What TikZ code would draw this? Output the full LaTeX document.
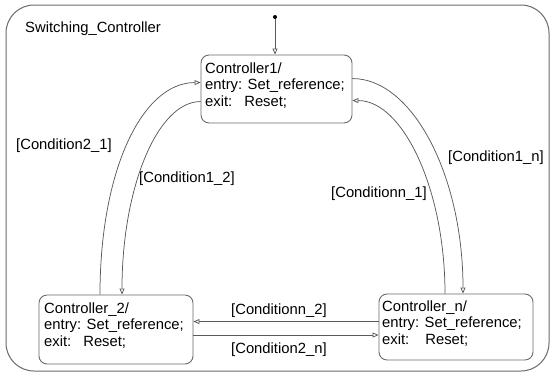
\documentclass[tikz,border=0pt]{standalone}
\usepackage{fontspec}
\setmainfont{Liberation Sans}
\usetikzlibrary{arrows.meta,calc}
\definecolor{linegray}{HTML}{5A5A5A}
\definecolor{boxgray}{HTML}{6A6A6A}
\definecolor{txt}{HTML}{000000}
\tikzset{
  statebox/.style={draw=boxgray,line width=0.9pt,rounded corners=8pt,minimum width=#1,inner sep=0pt},
  statetext/.style={anchor=north west,inner sep=0pt,align=left,text=txt,font=\fontsize{14.8}{16.4}\selectfont},
  lbl/.style={anchor=base west,inner sep=0pt,text=txt,font=\fontsize{14.8}{16.4}\selectfont},
  trans/.style={draw=linegray,line width=0.75pt,-{Triangle[open,length=6pt,width=5pt]}},
}
\begin{document}
\begin{tikzpicture}[x=1pt,y=-1pt]
\useasboundingbox (0,0) rectangle (550,372);
% outer superstate
\draw[draw=boxgray,line width=1pt,rounded corners=28pt] (6,5) rectangle (549,371);
\node[lbl] (title) at (25,32) {Switching\_Controller};
% states
\node[statebox=151pt,minimum height=68pt] (c1) at (276.5,89) {};
\node[statebox=154pt,minimum height=69pt] (c2) at (116,329.5) {};
\node[statebox=154pt,minimum height=66pt] (cn) at (456,327) {};
\node[statetext] (c1t) at (205,62.4) {Controller1/\\entry: Set\_reference;\\exit:\hspace{12pt}Reset;};
\node[statetext] (c2t) at (44,302.4) {Controller\_2/\\entry: Set\_reference;\\exit:\hspace{12pt}Reset;};
\node[statetext] (cnt) at (382,300.6) {Controller\_n/\\entry: Set\_reference;\\exit:\hspace{16pt}Reset;};
% default transition
\node[circle,fill=txt,inner sep=0pt,minimum size=4pt] (init) at (275,17) {};
\draw[trans] (init) -- (init |- c1.north);
% transitions
\coordinate (a21s) at ($(c2.north)+(-16,0)$);
\coordinate (a21e) at ($(c1.north west)+(0,28)$);
\draw[trans] (a21s) .. controls ($(a21s)+(0,-125)$) and ($(a21e)+(-58,0)$) .. (a21e);
\coordinate (a12s) at ($(c1.north west)+(0,47)$);
\coordinate (a12e) at ($(c2.north)+(6,0)$);
\draw[trans] (a12s) .. controls ($(a12s)+(-43,0)$) and ($(a12e)+(0,-107)$) .. (a12e);
\coordinate (a1ns) at ($(c1.north east)+(0,24)$);
\coordinate (a1ne) at ($(cn.north)+(7,0)$);
\draw[trans] (a1ns) .. controls ($(a1ns)+(60,0)$) and ($(a1ne)+(0,-118)$) .. (a1ne);
\coordinate (an1s) at ($(cn.north)+(-11,0)$);
\coordinate (an1e) at ($(c1.north east)+(0,46)$);
\draw[trans] (an1s) .. controls ($(an1s)+(0,-105)$) and ($(an1e)+(50,0)$) .. (an1e);
\coordinate (an2s) at ($(cn.north west)+(0,28)$);
\draw[trans] (an2s) -- (an2s -| c2.east);
\coordinate (a2ns) at ($(c2.north east)+(0,40.5)$);
\draw[trans] (a2ns) -- (a2ns -| cn.west);
% labels
\node[lbl] (l21) at (16,149) {[Condition2\_1]};
\node[lbl] (l12) at (139,182) {[Condition1\_2]};
\node[lbl] (ln1) at (331,197) {[Conditionn\_1]};
\node[lbl] (l1n) at (448,161) {[Condition1\_n]};
\node[lbl] (ln2) at (231,314) {[Conditionn\_2]};
\node[lbl] (l2n) at (231,353) {[Condition2\_n]};
\end{tikzpicture}
\end{document}
